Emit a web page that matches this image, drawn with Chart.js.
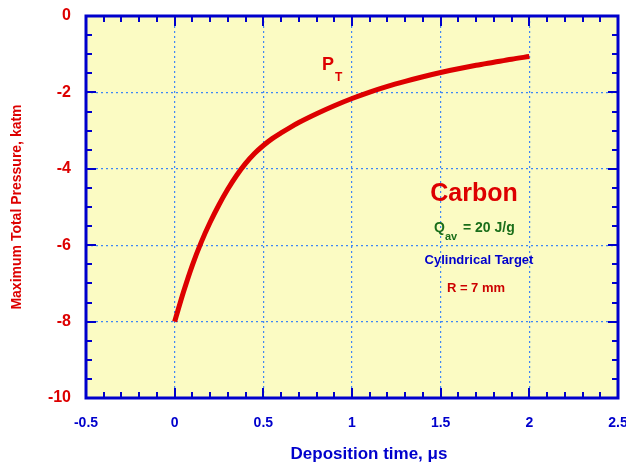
<!DOCTYPE html>
<html>
<head>
<meta charset="utf-8">
<script src="https://cdn.jsdelivr.net/npm/chart.js@4/dist/chart.umd.min.js"></script>
<style>
  html, body { margin: 0; padding: 0; background: #ffffff; }
  #wrap { width: 626px; height: 466px; }
</style>
</head>
<body>
<div id="wrap"><canvas id="c" width="626" height="466"></canvas></div>
<script>
// Deposition time, μs
const times = [0, 0.05, 0.1, 0.15, 0.2, 0.25, 0.3, 0.35, 0.4, 0.45, 0.5, 0.55, 0.6, 0.65, 0.7, 0.8, 0.9, 1.0, 1.1, 1.2, 1.3, 1.4, 1.5, 1.6, 1.7, 1.8, 1.9, 2.0];
// Maximum total pressure, katm
const pressures = [-8.0, -7.22, -6.52, -5.92, -5.40, -4.94, -4.53, -4.17, -3.86, -3.60, -3.39, -3.21, -3.06, -2.92, -2.79, -2.56, -2.35, -2.16, -1.99, -1.84, -1.71, -1.59, -1.48, -1.38, -1.29, -1.21, -1.13, -1.06];
const xRange = [-0.5, 2.5];
const yRange = [-10, 0];
const xMajor = 0.5, xMinor = 0.1;
const yMajor = 2, yMinor = 0.5;
const xTitle = 'Deposition time, μs';
const yTitle = 'Maximum Total Pressure, katm';

const FONT = '"Liberation Sans", Arial, Helvetica, sans-serif';
const BLUE = '#0000CC';
const RED = '#DD0000';

const framePlugin = {
  id: 'frame',
  beforeDraw(chart) {
    const {ctx, chartArea: a} = chart;
    ctx.save();
    ctx.fillStyle = '#FBFBC3';
    ctx.fillRect(a.left, a.top, a.right - a.left, a.bottom - a.top);
    ctx.restore();
  },
  afterDraw(chart) {
    const {ctx, chartArea: a} = chart;
    const xs = chart.scales.x, ys = chart.scales.y;
    ctx.save();
    ctx.strokeStyle = BLUE;
    ctx.lineWidth = 2;
    const eps = 1e-6;
    for (let v = xs.min; v <= xs.max + eps; v += xMinor) {
      const r = Math.round(v * 10) / 10;
      const major = Math.abs(r / xMajor - Math.round(r / xMajor)) < 1e-6;
      const len = major ? 10 : 6;
      const px = Math.round(xs.getPixelForValue(r));
      ctx.beginPath();
      ctx.moveTo(px, a.bottom); ctx.lineTo(px, a.bottom - len);
      ctx.moveTo(px, a.top); ctx.lineTo(px, a.top + len);
      ctx.stroke();
    }
    for (let v = ys.min; v <= ys.max + eps; v += yMinor) {
      const r = Math.round(v * 10) / 10;
      const major = Math.abs(r / yMajor - Math.round(r / yMajor)) < 1e-6;
      const len = major ? 10 : 6;
      const py = Math.round(ys.getPixelForValue(r));
      ctx.beginPath();
      ctx.moveTo(a.left, py); ctx.lineTo(a.left + len, py);
      ctx.moveTo(a.right, py); ctx.lineTo(a.right - len, py);
      ctx.stroke();
    }
    ctx.lineWidth = 3;
    ctx.strokeRect(a.left, a.top, a.right - a.left, a.bottom - a.top);

    // axis titles
    ctx.textBaseline = 'middle';
    ctx.textAlign = 'center';
    ctx.fillStyle = BLUE;
    ctx.font = 'bold 17px ' + FONT;
    ctx.fillText(xTitle, 369, 454);
    ctx.save();
    ctx.translate(17, 207);
    ctx.rotate(-Math.PI / 2);
    ctx.fillStyle = RED;
    ctx.font = 'bold 14px ' + FONT;
    ctx.fillText(yTitle, 0, 0);
    ctx.restore();

    // annotations
    ctx.textBaseline = 'alphabetic';
    ctx.textAlign = 'left';
    ctx.fillStyle = RED;
    ctx.font = 'bold 18px ' + FONT;
    ctx.fillText('P', 322, 70);
    ctx.font = 'bold 12px ' + FONT;
    ctx.fillText('T', 335, 81);

    ctx.textAlign = 'center';
    ctx.font = 'bold 25px ' + FONT;
    ctx.fillText('Carbon', 474, 201);

    ctx.fillStyle = '#1A6E1A';
    ctx.textAlign = 'left';
    ctx.font = 'bold 14px ' + FONT;
    ctx.fillText('Q', 434, 232);
    ctx.font = 'bold 11px ' + FONT;
    ctx.fillText('av', 445, 240);
    ctx.font = 'bold 14px ' + FONT;
    ctx.fillText('= 20 J/g', 463, 232);

    ctx.textAlign = 'center';
    ctx.fillStyle = BLUE;
    ctx.font = 'bold 13px ' + FONT;
    ctx.fillText('Cylindrical Target', 479, 264);

    ctx.fillStyle = '#CC0000';
    ctx.font = 'bold 13px ' + FONT;
    ctx.fillText('R = 7 mm', 476, 292);
    ctx.restore();
  }
};

const points = times.map((t, i) => ({x: t, y: pressures[i]}));
const fmt = v => String(Math.round(v * 10) / 10);

new Chart(document.getElementById('c'), {
  type: 'scatter',
  data: {
    datasets: [{
      data: points,
      showLine: true,
      borderColor: RED,
      borderWidth: 5,
      pointRadius: 0,
      cubicInterpolationMode: 'monotone',
      fill: false
    }]
  },
  options: {
    responsive: false,
    animation: false,
    devicePixelRatio: 1,
    layout: { padding: { left: 0, right: 8, top: 16, bottom: 0 } },
    plugins: { legend: { display: false }, tooltip: { enabled: false } },
    scales: {
      x: {
        type: 'linear',
        min: xRange[0], max: xRange[1],
        afterFit(s) { s.height = 68; s.paddingLeft = 0; s.paddingRight = 0; },
        ticks: {
          stepSize: xMajor,
          color: BLUE,
          padding: 17,
          maxRotation: 0,
          autoSkip: false,
          callback: fmt,
          font: { family: FONT, size: 14, weight: 'bold' }
        },
        grid: { color: '#3F86F5', lineWidth: 1.2, drawTicks: false },
        border: { display: false, dash: [2, 3] }
      },
      y: {
        type: 'linear',
        min: yRange[0], max: yRange[1],
        afterFit(s) { s.width = 86; s.paddingTop = 0; s.paddingBottom = 0; },
        ticks: {
          stepSize: yMajor,
          color: RED,
          padding: 15,
          autoSkip: false,
          callback: fmt,
          font: { family: FONT, size: 16, weight: 'bold' }
        },
        grid: { color: '#3F86F5', lineWidth: 1.2, drawTicks: false },
        border: { display: false, dash: [2, 3] }
      }
    }
  },
  plugins: [framePlugin]
});
</script>
</body>
</html>
